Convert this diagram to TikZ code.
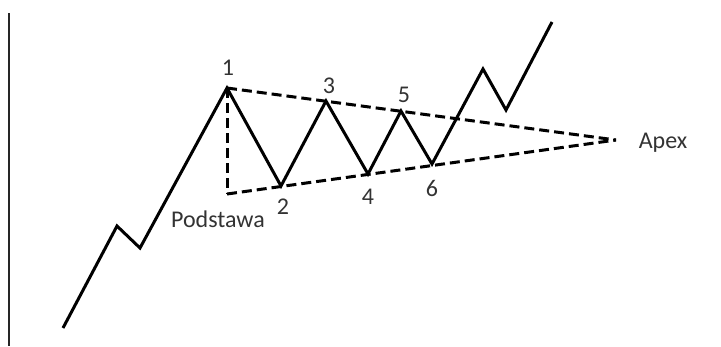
\documentclass[tikz,border=0pt]{standalone}
\usepackage{fontspec}
\setmainfont{Carlito}
\usetikzlibrary{positioning}

\begin{document}
\begin{tikzpicture}[x=1pt,y=-1pt,
  price/.style={line width=3pt,line join=miter,black},
  trend/.style={line width=3pt,black,dash pattern=on 10pt off 5pt},
  lbl/.style={font=\fontsize{24}{28}\selectfont,text=black!80,inner sep=0pt}]
  \useasboundingbox (0,0) rectangle (721,346);

  % axis
  \draw[line width=1.4pt,black!85] (9,13) -- (9,346);

  % turning points
  \coordinate (s0) at (63,328);
  \coordinate (s1) at (117,226);
  \coordinate (s2) at (140,248);
  \coordinate (p1) at (227,88);
  \coordinate (p2) at (281,186);
  \coordinate (p3) at (326,101);
  \coordinate (p4) at (368,174);
  \coordinate (p5) at (401,111);
  \coordinate (p6) at (432,164);
  \coordinate (b1) at (483,69);
  \coordinate (b2) at (506,110);
  \coordinate (b3) at (552,22);
  \coordinate (apex) at (616,140);
  \coordinate (base) at (227,194);

  % triangle
  \draw[trend] (p1) -- (apex);
  \draw[trend] (base) -- (apex);
  \draw[trend] (p1) -- (base);

  % price path
  \draw[price] (s0) -- (s1) -- (s2) -- (p1) -- (p2) -- (p3) -- (p4)
    -- (p5) -- (p6) -- (b1) -- (b2) -- (b3);

  % labels
  \node[lbl] (l1) at (228,68) {1};
  \node[lbl] (l2) at (283,207) {2};
  \node[lbl] (l3) at (329,86) {3};
  \node[lbl] (l4) at (368,197) {4};
  \node[lbl] (l5) at (404,95) {5};
  \node[lbl] (l6) at (432,188) {6};
  \node[lbl] (lapex) at (663,143) {Apex};
  \node[lbl] (lbase) at (218,219) {Podstawa};
\end{tikzpicture}
\end{document}
